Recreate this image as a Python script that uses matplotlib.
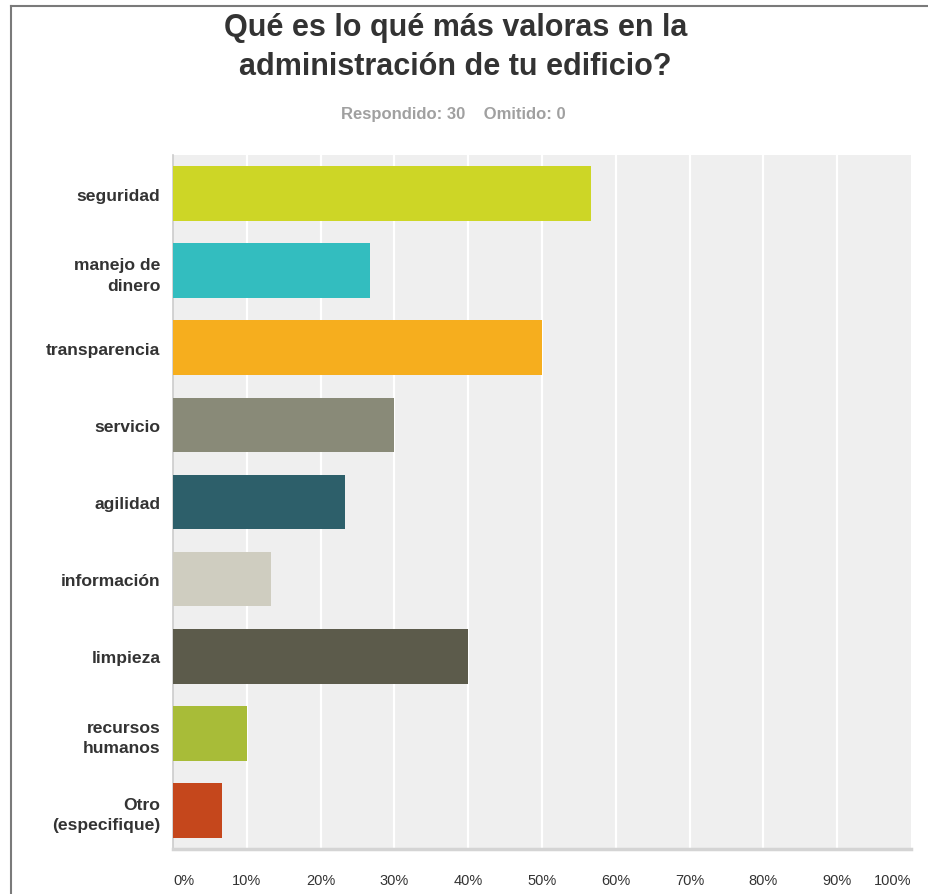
import numpy as np
import matplotlib
matplotlib.use('Agg')
import matplotlib.pyplot as plt
from matplotlib.lines import Line2D

categories = [
    'seguridad',
    'manejo de\ndinero',
    'transparencia',
    'servicio',
    'agilidad',
    'información',
    'limpieza',
    'recursos\nhumanos',
    'Otro\n(especifique)',
]
# share of the 30 respondents (%)
values = [56.67, 26.67, 50.0, 30.0, 23.33, 13.33, 40.0, 10.0, 6.67]
colors = ['#cdd626', '#33bdbf', '#f6ae1e', '#898a78', '#2d5f6a',
          '#cfcdc0', '#5c5b4b', '#a8bc38', '#c5471c']
xticks = np.arange(0, 101, 10)
xtick_labels = [f"{t}%" for t in xticks]

title = "Qué es lo qué más valoras en la\nadministración de tu edificio?"
subtitle = "Respondido: 30    Omitido: 0"

sans = ['Liberation Sans', 'DejaVu Sans']

fig = plt.figure(figsize=(9.29, 8.95), dpi=100)
ax = fig.add_axes([0.1862, 0.0503, 0.7944, 0.7754])
ax.set_facecolor('#efefef')

ypos = np.arange(len(categories))
ax.barh(ypos, values, height=0.71, color=colors, zorder=3)

ax.set_xlim(0, 100)
ax.set_ylim(len(categories) - 0.5, -0.5)

for t in xticks[1:-1]:
    ax.axvline(t, color='white', lw=1.6, zorder=1)

ax.set_yticks(ypos)
ax.set_yticklabels(categories, fontsize=12.6, fontweight='bold',
                   color='#333333', family=sans, linespacing=1.45)
ax.tick_params(axis='y', length=0, pad=9)

# percentage labels under the axis
ax.set_xticks([])
for t, lab in zip(xticks, xtick_labels):
    ha = 'left' if t == 0 else ('right' if t == 100 else 'center')
    ax.text(t, -0.045, lab, transform=ax.get_xaxis_transform(), ha=ha,
            va='center', fontsize=10.5, color='#333333', family=sans)

for side in ['top', 'right']:
    ax.spines[side].set_visible(False)
ax.spines['left'].set_color('#cccccc')
ax.spines['left'].set_linewidth(1.2)
ax.spines['bottom'].set_color('#d4d4d4')
ax.spines['bottom'].set_linewidth(2.5)

fig.text(0.49, 0.947, title, ha='center', va='center', fontsize=22,
         fontweight='bold', color='#333333', family=sans, linespacing=1.38)
fig.text(0.488, 0.872, subtitle, ha='center', va='center', fontsize=12,
         fontweight='bold', color='#a0a0a0', family=sans)

# outer frame
fig.add_artist(Line2D([11 / 929, 11 / 929], [0, 1 - 7 / 895],
                      transform=fig.transFigure, color='#7a7a7a', lw=1.5))
fig.add_artist(Line2D([11 / 929, 1], [1 - 7 / 895, 1 - 7 / 895],
                      transform=fig.transFigure, color='#7a7a7a', lw=1.5))

fig.savefig('out.png', dpi=100, facecolor='white')
